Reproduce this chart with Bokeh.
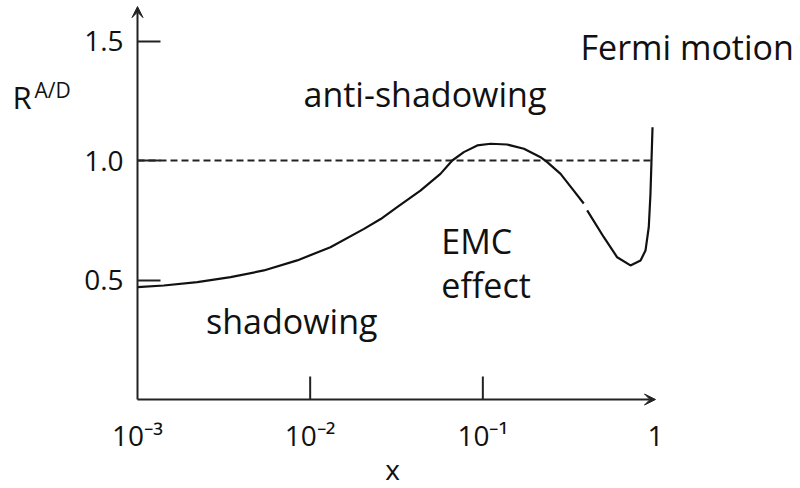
from bokeh.plotting import figure
from bokeh.models import FixedTicker, Label, Arrow, VeeHead, Range1d
from bokeh.embed import file_html
from bokeh.resources import INLINE

# ---- data ----
curve_x = [0.001, 0.00142, 0.00222, 0.00346, 0.00539, 0.00841, 0.0131, 0.0205,
           0.0256, 0.0319, 0.0435, 0.0568, 0.0665, 0.0776, 0.0928, 0.111, 0.138,
           0.173, 0.216, 0.236, 0.282, 0.336, 0.384, float("nan"),
           0.402, 0.502, 0.600, 0.716, 0.819, 0.875, 0.914, 0.935, 0.948, 0.961]
curve_y = [0.470, 0.477, 0.491, 0.512, 0.540, 0.582, 0.637, 0.714,
           0.755, 0.805, 0.874, 0.944, 1.000, 1.035, 1.063, 1.070, 1.067,
           1.049, 1.014, 0.993, 0.944, 0.874, 0.820, float("nan"),
           0.791, 0.679, 0.595, 0.561, 0.582, 0.623, 0.721, 0.861, 1.000, 1.139]
unity_x = [0.001, 0.961]
unity_y = [1.0, 1.0]

x_ticks = [0.001, 0.01, 0.1, 1.0]
x_tick_labels = ["10\u207b\u00b3", "10\u207b\u00b2", "10\u207b\u00b9", "1"]
x_tick_marks = [0.01, 0.1]
y_ticks = [0.5, 1.0, 1.5]
y_tick_labels = ["0.5", "1.0", "1.5"]

x_min, x_max = 0.001, 1.0      # extent of the drawn x axis
y_min, y_max = 0.0, 1.644      # extent of the drawn y axis

FONT = "Open Sans"
INK = "#111111"
AXC = "#222222"

# frame fills the whole canvas; axes are pinned at data locations
p = figure(width=800, height=488, x_axis_type="log",
           x_range=Range1d(10 ** (-3 - 137 / 172.67), 10 ** ((800 - 137) / 172.67 - 3)),
           y_range=Range1d(-89 / 239, 399 / 239),
           output_backend="svg", toolbar_location=None,
           min_border_left=0, min_border_right=0,
           min_border_top=0, min_border_bottom=0)
p.outline_line_color = None
p.grid.visible = False
p.background_fill_color = "white"

for ax in (p.xaxis[0], p.yaxis[0]):
    ax.axis_line_color = None
    ax.major_tick_line_width = 2
    ax.major_tick_line_color = AXC
    ax.minor_tick_line_color = None
    ax.major_tick_out = 0
    ax.major_label_text_font = FONT
    ax.major_label_text_font_size = "28px"
    ax.major_label_text_color = INK

p.xaxis.fixed_location = y_min
p.xaxis.ticker = FixedTicker(ticks=x_ticks)
p.xaxis.major_label_overrides = {t: l for t, l in zip(x_ticks, x_tick_labels)}
p.xaxis.major_tick_in = 0
p.xaxis.major_label_standoff = 16

p.yaxis.fixed_location = x_min
p.yaxis.ticker = FixedTicker(ticks=y_ticks)
p.yaxis.major_label_overrides = {t: l for t, l in zip(y_ticks, y_tick_labels)}
p.yaxis.major_tick_in = 23
p.yaxis.major_label_standoff = 14

# inner tick marks on the x axis (only at 10^-2 and 10^-1)
tick_len = 23 / 239
p.segment(x0=x_tick_marks, y0=[y_min] * len(x_tick_marks),
          x1=x_tick_marks, y1=[tick_len] * len(x_tick_marks),
          line_color=AXC, line_width=2)

# axis lines with arrow heads
p.add_layout(Arrow(end=VeeHead(size=11, fill_color=AXC, line_color=AXC),
                   x_start=x_min, y_start=y_min, x_end=x_min, y_end=y_max,
                   line_color=AXC, line_width=2))
p.add_layout(Arrow(end=VeeHead(size=11, fill_color=AXC, line_color=AXC),
                   x_start=x_min, y_start=y_min, x_end=x_max, y_end=y_min,
                   line_color=AXC, line_width=2))

# reference line and curve
p.line(unity_x, unity_y, line_color=AXC, line_width=2, line_dash="7 4")
p.line(curve_x, curve_y, line_color="#111111", line_width=2.2)

def lab(x, y, t, size, align="left"):
    p.add_layout(Label(x=x, y=y, text=t, text_font=FONT, text_font_size=size,
                       text_color=INK, text_align=align,
                       text_baseline="alphabetic"))

lab(0.3678, 1.475, "Fermi motion", "34px")
lab(0.00915, 1.278, "anti-shadowing", "34px")
lab(0.0575, 0.663, "EMC", "34px")
lab(0.0575, 0.479, "effect", "34px")
lab(0.002493, 0.328, "shadowing", "34px")
lab(0.02998, -0.290, "x", "28px", "center")
lab(0.0001888, 1.266, "R", "31px")
lab(0.0002532, 1.294, "A/D", "21px")

open("out.html", "w").write(file_html(p, INLINE))
